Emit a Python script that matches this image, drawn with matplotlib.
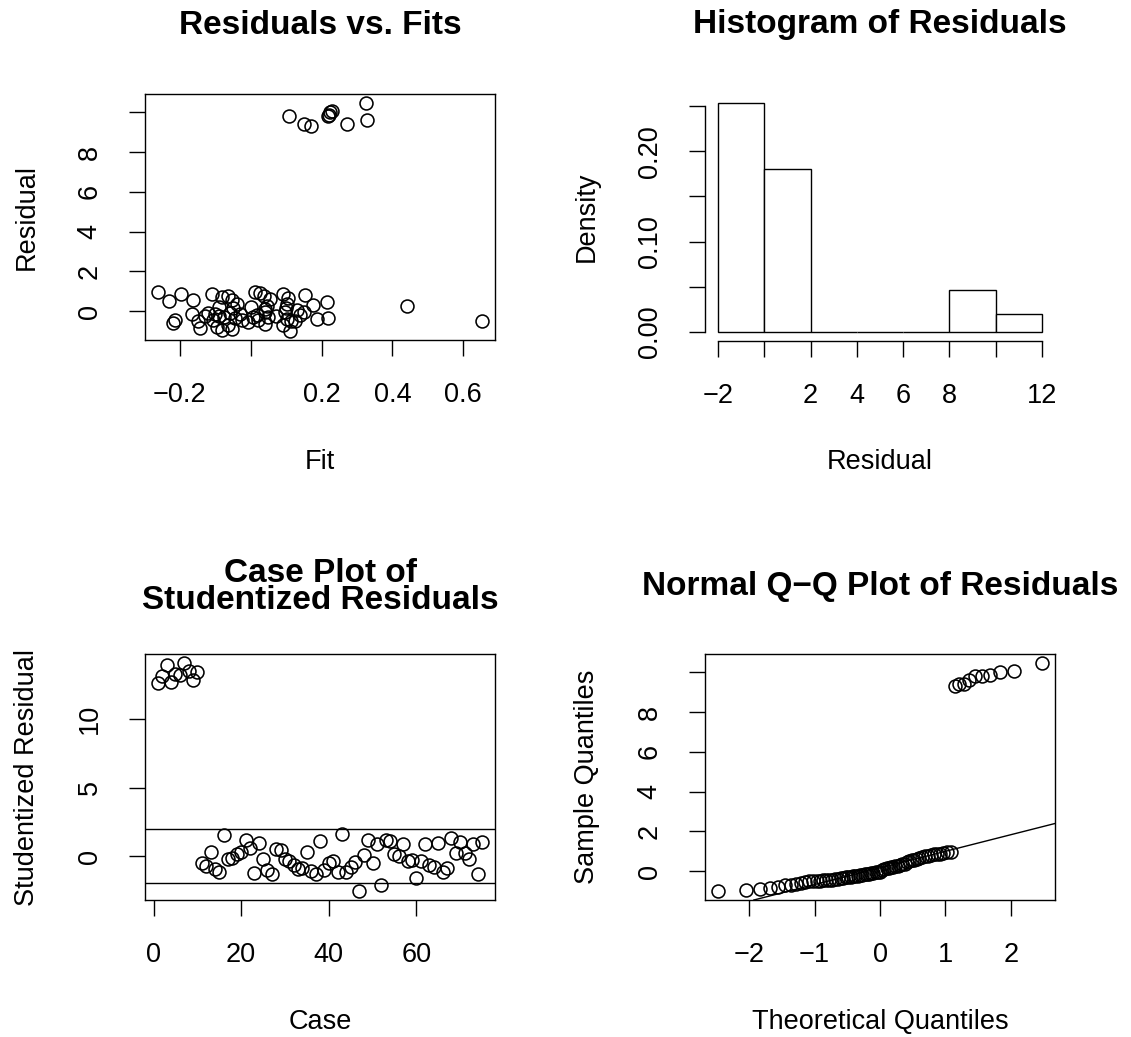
import numpy as np
import matplotlib
matplotlib.use("Agg")
import matplotlib.pyplot as plt
from statistics import NormalDist

plt.rcParams['font.family'] = ['Liberation Sans', 'DejaVu Sans']

# fitted values and residuals
fits = [0.108, 0.151, 0.170, 0.219, 0.224, 0.230, 0.273, 0.325, 0.329, 0.221,
        0.111, -0.082, -0.054, -0.143, -0.096, 0.092, -0.063, 0.040, -0.219, -0.007,
        0.125, 0.653, 0.115, -0.148, 0.021, -0.214, -0.106, -0.025, 0.102, 0.186,
        0.219, -0.044, 0.007, 0.050, -0.075, -0.130, 0.070, -0.091, 0.139, 0.017,
        -0.030, -0.101, -0.167, -0.120, -0.058, 0.040, 0.097, 0.149,
        0.130, 0.040, -0.049, 0.099, -0.090, 0.000, 0.045, 0.177, 0.441, -0.040,
        0.102, 0.215, -0.230, -0.054, -0.163, 0.055, 0.106, -0.082, 0.036, -0.063,
        0.153, -0.196, -0.110, 0.092, 0.026, 0.012, -0.262]
residuals = [9.80, 9.42, 9.30, 9.80, 10.03, 10.08, 9.42, 10.47, 9.63, 9.88,
             -1.00, -0.95, -0.92, -0.85, -0.78, -0.72, -0.68, -0.64, -0.60, -0.56,
             -0.52, -0.50, -0.49, -0.48, -0.47, -0.46, -0.45, -0.44, -0.42, -0.40,
             -0.37, -0.34, -0.31, -0.30, -0.29, -0.27, -0.25, -0.23, -0.21, -0.19,
             -0.17, -0.15, -0.13, -0.11, -0.09, -0.07, -0.05, -0.03,
             0.04, 0.09, 0.13, 0.16, 0.19, 0.22, 0.25, 0.28, 0.27, 0.33,
             0.37, 0.45, 0.50, 0.55, 0.58, 0.62, 0.65, 0.70, 0.74, 0.77,
             0.80, 0.84, 0.86, 0.88, 0.92, 0.95, 0.98]

# studentized residuals by case number 1..75
stud_resid = [12.64, 13.12, 13.97, 12.71, 13.32, 13.25, 14.09, 13.49, 12.88, 13.44,
              -0.48, -0.73, 0.32, -0.92, -1.14, 1.53, -0.19, -0.12, 0.12, 0.32,
              1.14, 0.61, -1.21, 0.92, -0.24, -1.02, -1.28, 0.49, 0.41, -0.19,
              -0.36, -0.68, -0.92, -0.84, 0.32, -1.09, -1.28, 1.09, -1.04, -0.53,
              -0.36, -1.14, 1.63, -1.14, -0.80, -0.44, -2.54, 0.05, 1.16, -0.53,
              0.85, -2.10, 1.16, 1.09, 0.12, 0.00, 0.90, -0.36, -0.31, -1.57,
              -0.36, 0.85, -0.68, -0.80, 0.92, -1.14, -0.84, 1.34, 0.20, 1.05,
              0.20, -0.19, 0.90, -1.28, 1.05]
cases = np.arange(1, len(stud_resid) + 1)

hist_bins = [-2, 0, 2, 4, 6, 8, 10, 12]

W, H = 1131, 1037
fig = plt.figure(figsize=(W / 100, H / 100), dpi=100)


def px_axes(left, top, right, bottom):
    return fig.add_axes([left / W, 1 - bottom / H, (right - left) / W, (bottom - top) / H])


def px_text(x, y, s, **kw):
    fig.text(x / W, 1 - y / H, s, ha='center', va='center', **kw)


def style(ax):
    for sp in ax.spines.values():
        sp.set_linewidth(1.0)
    ax.tick_params(direction='out', length=11.5, width=1.0, pad=19, labelsize=19.5)
    ax.tick_params(axis='y', labelrotation=90)
    for lab in ax.get_yticklabels():
        lab.set_va('center')


mk = dict(marker='o', linestyle='none', ms=9.3, mfc='none', mec='black', mew=1.15)

# residuals vs fits
ax1 = px_axes(145, 94, 495, 340)
ax1.plot(fits, residuals, **mk)
ax1.margins(0.04)
ax1.set_xticks([-0.2, 0.0, 0.2, 0.4, 0.6], ['\u22120.2', '', '0.2', '0.4', '0.6'])
ax1.set_yticks([0, 2, 4, 6, 8, 10], ['0', '2', '4', '6', '8', ''])
style(ax1)
px_text(320, 25, 'Residuals vs. Fits', fontsize=24, fontweight='bold')
px_text(320, 462, 'Fit', fontsize=19.5)
px_text(27, 217, 'Residual', fontsize=19.5, rotation=90)

# histogram (R style: right-closed bins)
ax2 = px_axes(705, 94, 1055, 341)
res_arr = np.array(residuals)
counts = np.array([np.sum((res_arr > a) & (res_arr <= b)) for a, b in zip(hist_bins[:-1], hist_bins[1:])])
counts[0] += np.sum(res_arr == hist_bins[0])
edges = np.array(hist_bins)
dens = counts / (len(residuals) * np.diff(edges))
ax2.bar(edges[:-1], dens, width=np.diff(edges), align='edge',
        facecolor='white', edgecolor='black', linewidth=1.0)
ax2.set_xlim(-2 - 0.04 * 14, 12 + 0.04 * 14)
ax2.set_ylim(-0.04 * dens.max(), dens.max() * 1.04)
ax2.set_xticks(hist_bins, ['\u22122', '', '2', '4', '6', '8', '', '12'])
ax2.set_yticks([0, 0.05, 0.10, 0.15, 0.20, 0.25], ['0.00', '', '0.10', '', '0.20', ''])
ax2.spines['top'].set_visible(False)
ax2.spines['right'].set_visible(False)
style(ax2)
ax2.spines['bottom'].set_bounds(-2, 12)
ax2.spines['left'].set_bounds(0, 0.25)
px_text(880, 25, 'Histogram of Residuals', fontsize=24, fontweight='bold')
px_text(880, 462, 'Residual', fontsize=19.5)
px_text(587, 217, 'Density', fontsize=19.5, rotation=90)

# case plot
ax3 = px_axes(145, 654, 495, 900)
ax3.plot(cases, stud_resid, **mk)
ax3.margins(0.04)
ax3.axhline(2, color='black', lw=1.0)
ax3.axhline(-2, color='black', lw=1.0)
ax3.set_xticks([0, 20, 40, 60])
ax3.set_yticks([0, 5, 10])
style(ax3)
px_text(320, 587, 'Case Plot of\nStudentized Residuals', fontsize=24,
        fontweight='bold', linespacing=0.85)
px_text(320, 1022, 'Case', fontsize=19.5)
px_text(27, 777, 'Studentized Residual', fontsize=19.5, rotation=90)

# normal Q-Q
n = len(residuals)
nd = NormalDist()
theo = np.array([nd.inv_cdf((i - 0.5) / n) for i in range(1, n + 1)])
samp = np.sort(residuals)
ax4 = px_axes(705, 654, 1055, 900)
ax4.plot(theo, samp, **mk)
ax4.margins(0.04)
yq = np.quantile(residuals, [0.25, 0.75])
xq = np.array([nd.inv_cdf(0.25), nd.inv_cdf(0.75)])
slope = (yq[1] - yq[0]) / (xq[1] - xq[0])
icpt = yq[0] - slope * xq[0]
ax4.axline((0, icpt), slope=slope, color='black', lw=1.0)
ax4.set_xticks([-2, -1, 0, 1, 2], ['\u22122', '\u22121', '0', '1', '2'])
ax4.set_yticks([0, 2, 4, 6, 8, 10], ['0', '2', '4', '6', '8', ''])
style(ax4)
px_text(880, 586, 'Normal Q\u2212Q Plot of Residuals', fontsize=24, fontweight='bold')
px_text(880, 1022, 'Theoretical Quantiles', fontsize=19.5)
px_text(587, 777, 'Sample Quantiles', fontsize=19.5, rotation=90)

fig.savefig('out.png', dpi=100)
